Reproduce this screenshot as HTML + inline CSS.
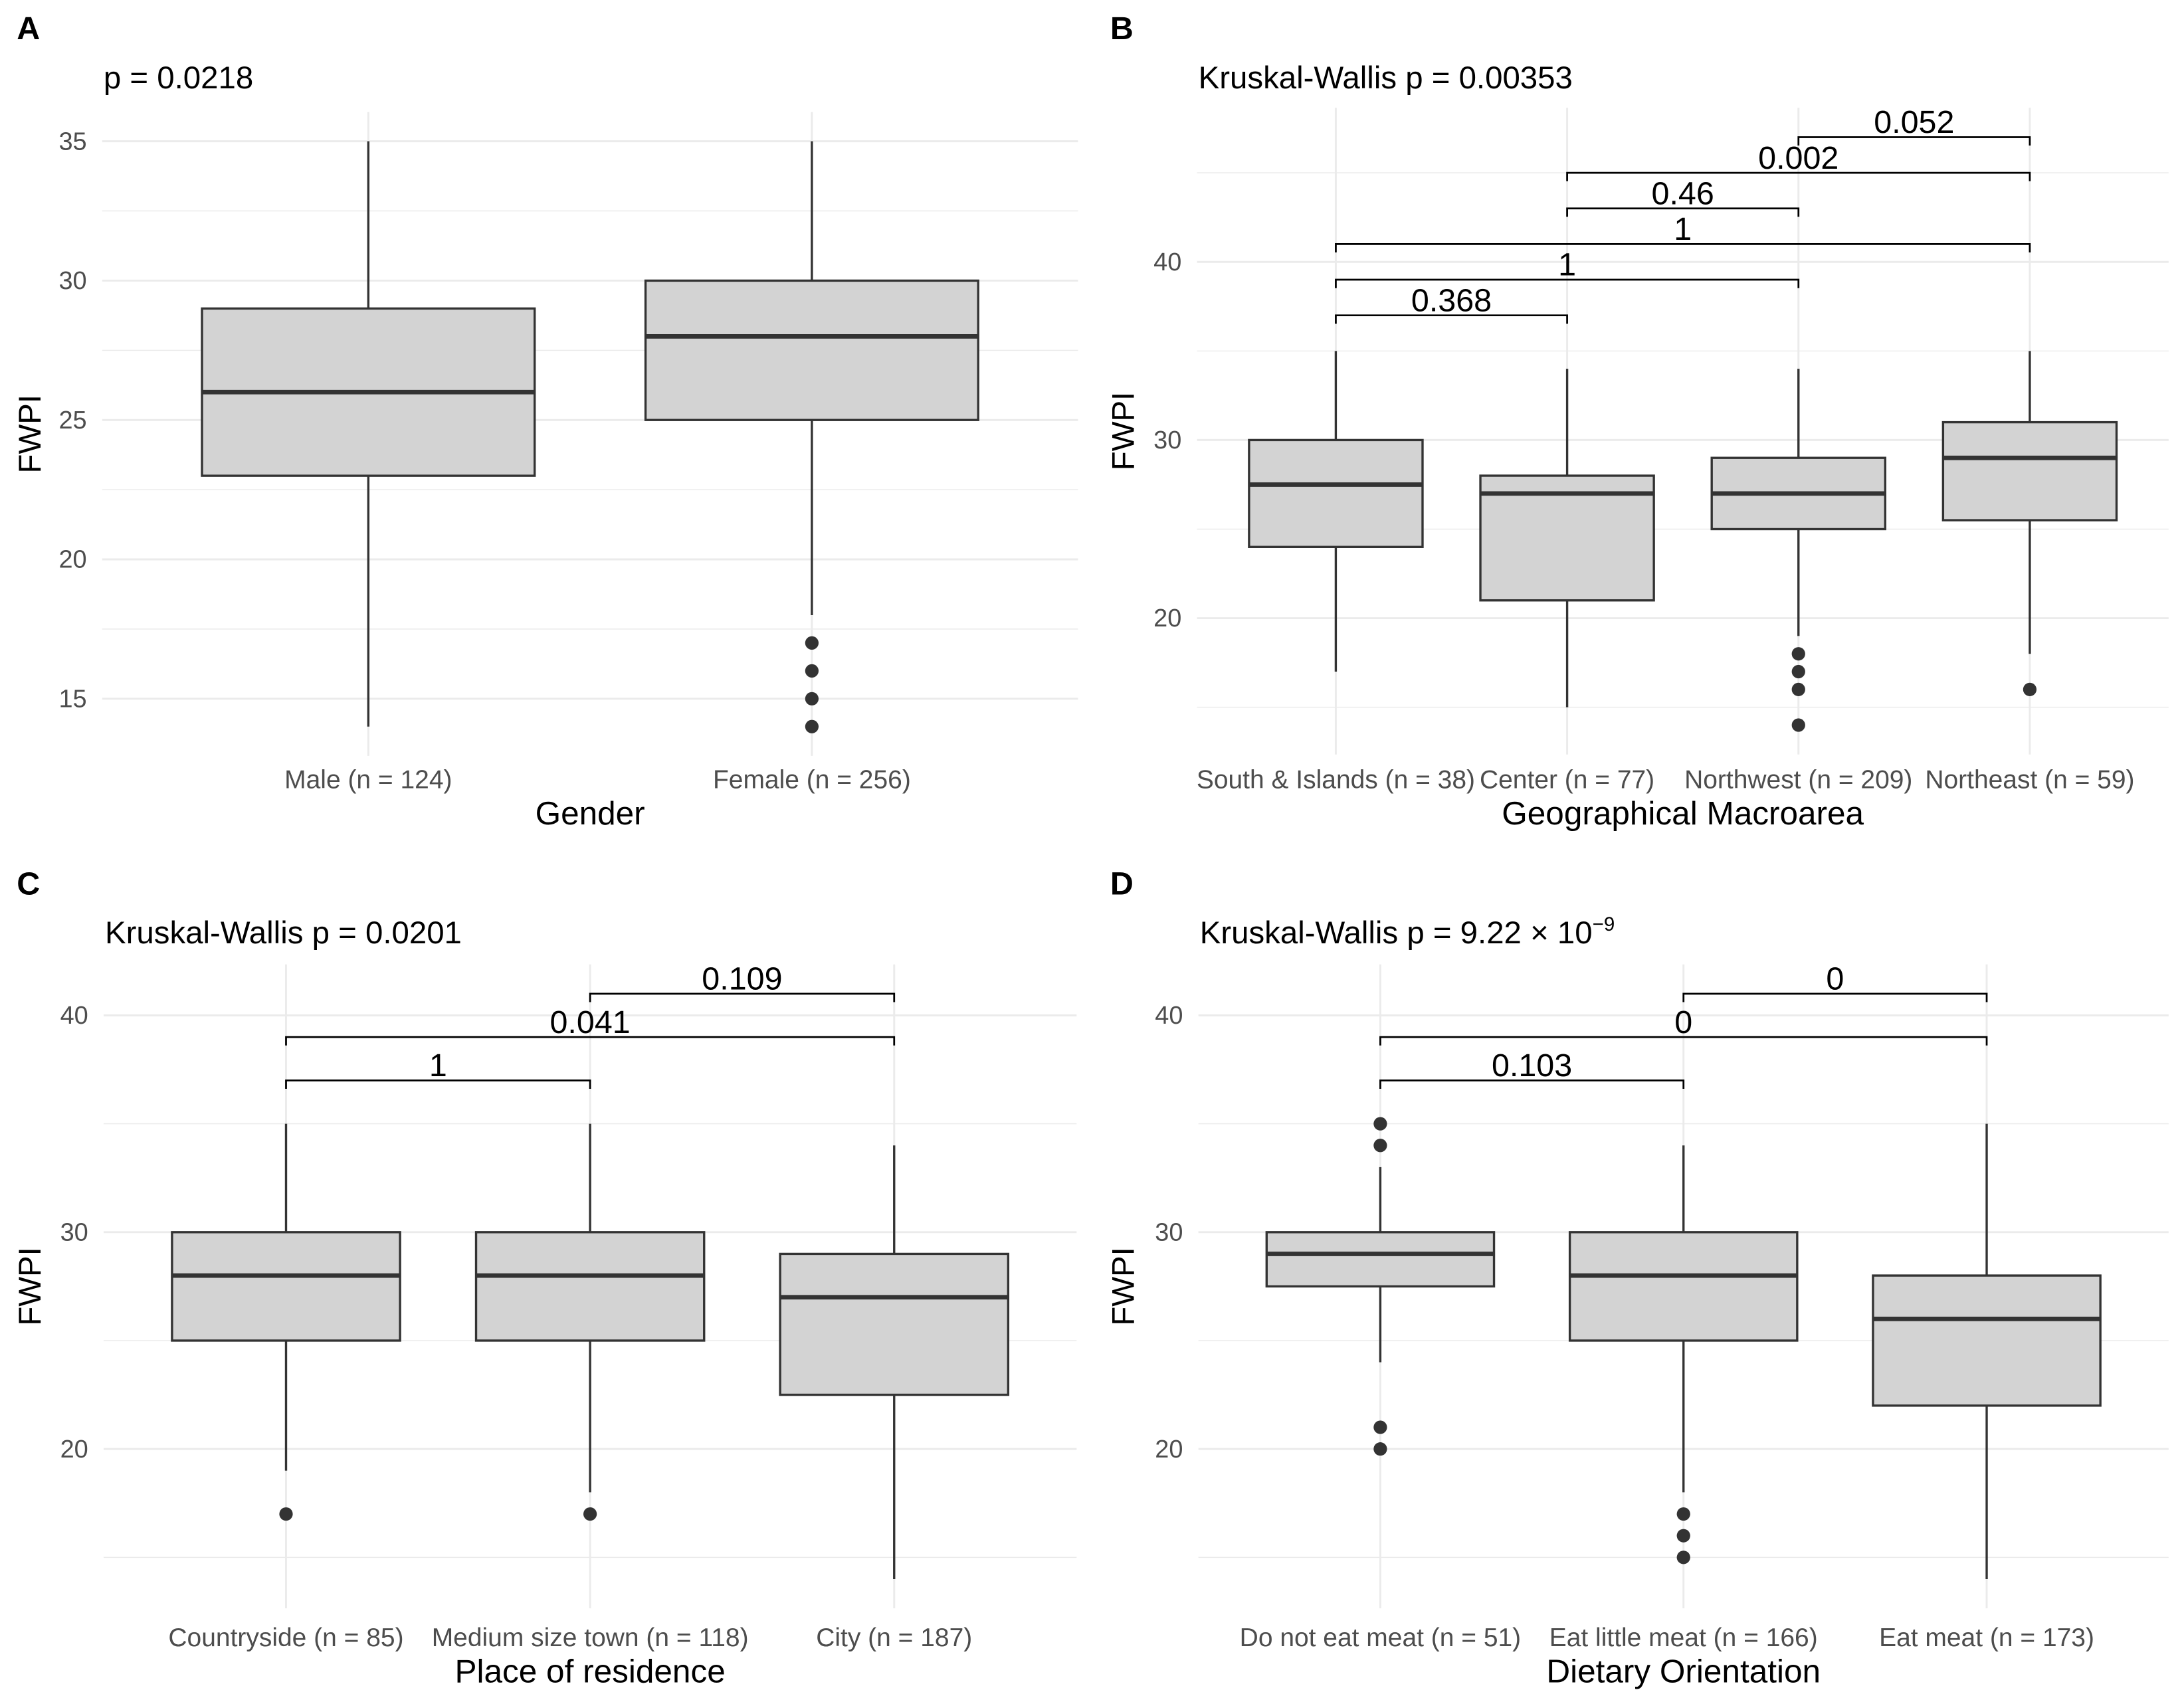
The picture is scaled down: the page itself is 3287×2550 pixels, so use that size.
<!DOCTYPE html>
<html><head><meta charset="utf-8"><style>
html,body{margin:0;padding:0;background:#fff}
svg{display:block}
text{font-family:"Liberation Sans",sans-serif}
</style></head><body>
<svg id="fig" width="3287" height="2550" viewBox="0 0 1560 1210.2" xmlns="http://www.w3.org/2000/svg"></svg>
<script>
// ---- Panel A data ----
const catsA = ["Male (n = 124)", "Female (n = 256)"];
const whiskLoA = [14, 18], q1A = [23, 25], medA = [26, 28], q3A = [29, 30], whiskHiA = [35, 35];
const outA = [[], [14, 15, 16, 17]];
const ticksA = [15, 20, 25, 30, 35];
const bracketsA = [];
// ---- Panel B data ----
const catsB = ["South & Islands (n = 38)", "Center (n = 77)", "Northwest (n = 209)", "Northeast (n = 59)"];
const whiskLoB = [17, 15, 19, 18], q1B = [24, 21, 25, 25.5], medB = [27.5, 27, 27, 29], q3B = [30, 28, 29, 31], whiskHiB = [35, 34, 34, 35];
const outB = [[], [], [14, 16, 17, 18], [16]];
const ticksB = [20, 30, 40];
const brFromB = [0, 0, 0, 1, 1, 2], brToB = [1, 2, 3, 2, 3, 3], brYB = [37, 39, 41, 43, 45, 47];
const brLabB = ["0.368", "1", "1", "0.46", "0.002", "0.052"];
// ---- Panel C data ----
const catsC = ["Countryside (n = 85)", "Medium size town (n = 118)", "City (n = 187)"];
const whiskLoC = [19, 18, 14], q1C = [25, 25, 22.5], medC = [28, 28, 27], q3C = [30, 30, 29], whiskHiC = [35, 35, 34];
const outC = [[17], [17], []];
const ticksC = [20, 30, 40];
const brFromC = [0, 0, 1], brToC = [1, 2, 2], brYC = [37, 39, 41];
const brLabC = ["1", "0.041", "0.109"];
// ---- Panel D data ----
const catsD = ["Do not eat meat (n = 51)", "Eat little meat (n = 166)", "Eat meat (n = 173)"];
const whiskLoD = [24, 18, 14], q1D = [27.5, 25, 22], medD = [29, 28, 26], q3D = [30, 30, 28], whiskHiD = [33, 34, 35];
const outD = [[20, 21, 34, 35], [15, 16, 17], []];
const ticksD = [20, 30, 40];
const brFromD = [0, 0, 1], brToD = [1, 2, 2], brYD = [37, 39, 41];
const brLabD = ["0.103", "0", "0"];

const NS = "http://www.w3.org/2000/svg";
const svg = document.getElementById("fig");
function mk(tag, attrs, parent) {
  const e = document.createElementNS(NS, tag);
  for (const k in attrs) e.setAttribute(k, attrs[k]);
  (parent || svg).appendChild(e);
  return e;
}

function panel(cfg) {
  const g = mk("g", {});
  
  
  const n = cfg.cats.length;
  const allVals = [].concat(cfg.lo, cfg.hi, ...cfg.out, cfg.brY || []);
  const dmin = Math.min(...allVals), dmax = Math.max(...allVals);
  const pad = (dmax - dmin) * 0.05;
  const vmin = dmin - pad, vmax = dmax + pad;
  const y = v => cfg.bottom - (v - vmin) / (vmax - vmin) * (cfg.bottom - cfg.top);
  const x = i => cfg.left + (i + 0.6) / (n + 0.2) * (cfg.right - cfg.left);
  const step = (cfg.right - cfg.left) / (n + 0.2);
  const tstep = cfg.ticks[1] - cfg.ticks[0];
  for (let v = cfg.ticks[0] - tstep / 2; v <= vmax; v += tstep) {
    if (v < vmin) continue;
    const l = mk("line", {x1: cfg.left, x2: cfg.right, y1: y(v), y2: y(v), stroke: "#ebebeb", "stroke-width": 0.7}, g);
    
    
  }
  cfg.ticks.forEach(t => {
    const l = mk("line", {x1: cfg.left, x2: cfg.right, y1: y(t), y2: y(t), stroke: "#ebebeb", "stroke-width": 1.4}, g);
    
    
    const tx = mk("text", {x: cfg.left - 11, y: y(t) + 6, "text-anchor": "end", "font-size": 18, fill: "#4d4d4d"}, g);
    tx.textContent = t;
    
    
  });
  for (let i = 0; i < n; i++) {
    const l = mk("line", {x1: x(i), x2: x(i), y1: cfg.top, y2: cfg.bottom, stroke: "#ebebeb", "stroke-width": 1.4}, g);
    
    
  }
  const hw = step * 0.375;
  for (let i = 0; i < n; i++) {
    const bg = mk("g", {}, g);
    
    
    mk("line", {x1: x(i), x2: x(i), y1: y(cfg.hi[i]), y2: y(cfg.q3[i]), stroke: "#333", "stroke-width": 1.6}, bg);
    mk("line", {x1: x(i), x2: x(i), y1: y(cfg.q1[i]), y2: y(cfg.lo[i]), stroke: "#333", "stroke-width": 1.6}, bg);
    mk("rect", {x: x(i) - hw, y: y(cfg.q3[i]), width: 2 * hw, height: y(cfg.q1[i]) - y(cfg.q3[i]), fill: "#d3d3d3", stroke: "#333", "stroke-width": 1.6}, bg);
    mk("line", {x1: x(i) - hw, x2: x(i) + hw, y1: y(cfg.med[i]), y2: y(cfg.med[i]), stroke: "#333", "stroke-width": 3.2}, bg);
    cfg.out[i].forEach(v => {
      const c = mk("circle", {cx: x(i), cy: y(v), r: 4.8, fill: "#333"}, bg);
      
      
    });
    const tl = mk("text", {x: x(i), y: cfg.tickY, "text-anchor": "middle", "font-size": 18.5, fill: "#4d4d4d"}, g);
    tl.textContent = cfg.cats[i];
    
    
  }
  (cfg.brY || []).forEach((v, k) => {
    const bg = mk("g", {}, g);
    
    
    const x1 = x(cfg.brFrom[k]), x2 = x(cfg.brTo[k]), yy = y(v);
    mk("path", {d: `M${x1},${yy + 6}V${yy}H${x2}V${yy + 6}`, fill: "none", stroke: "#000", "stroke-width": 1.3}, bg);
    const t = mk("text", {x: (x1 + x2) / 2, y: yy - 3, "text-anchor": "middle", "font-size": 23, fill: "#000"}, bg);
    t.textContent = cfg.brLab[k];
  });
  const tag = mk("text", {x: cfg.tagX, y: cfg.tagY, "font-size": 23, "font-weight": "bold"}, g);
  tag.textContent = cfg.tag;
  
  
  const st = mk("text", {x: cfg.left + 1, y: cfg.tagY + 35, "font-size": 22.5}, g);
  st.innerHTML = cfg.sub;
  
  
  const xt = mk("text", {x: (cfg.left + cfg.right) / 2, y: cfg.tickY + 26, "text-anchor": "middle", "font-size": 23.5}, g);
  xt.textContent = cfg.xtitle;
  
  
  const cy = (cfg.top + cfg.bottom) / 2, cx = cfg.tagX + 17;
  const yt = mk("text", {x: cx, y: cy, "text-anchor": "middle", "font-size": 22.5, transform: `rotate(-90 ${cx} ${cy})`}, g);
  yt.textContent = "FWPI";
  
  
}

panel({id: "panel-a-gender", tag: "A", tagX: 12, tagY: 28, sub: "p = 0.0218", xtitle: "Gender",
  cats: catsA, lo: whiskLoA, q1: q1A, med: medA, q3: q3A, hi: whiskHiA, out: outA, ticks: ticksA,
  left: 73, right: 770, top: 80, bottom: 540, tickY: 563});
panel({id: "panel-b-macroarea", tag: "B", tagX: 793, tagY: 28, sub: "Kruskal-Wallis p = 0.00353", xtitle: "Geographical Macroarea",
  cats: catsB, lo: whiskLoB, q1: q1B, med: medB, q3: q3B, hi: whiskHiB, out: outB, ticks: ticksB,
  brFrom: brFromB, brTo: brToB, brY: brYB, brLab: brLabB,
  left: 855, right: 1549, top: 77, bottom: 539, tickY: 563});
panel({id: "panel-c-residence", tag: "C", tagX: 12, tagY: 639, sub: "Kruskal-Wallis p = 0.0201", xtitle: "Place of residence",
  cats: catsC, lo: whiskLoC, q1: q1C, med: medC, q3: q3C, hi: whiskHiC, out: outC, ticks: ticksC,
  brFrom: brFromC, brTo: brToC, brY: brYC, brLab: brLabC,
  left: 74, right: 769, top: 689, bottom: 1149, tickY: 1176});
panel({id: "panel-d-diet", tag: "D", tagX: 793, tagY: 639, sub: "Kruskal-Wallis p = 9.22 × 10<tspan dy='-9' font-size='14'>−9</tspan>", xtitle: "Dietary Orientation",
  cats: catsD, lo: whiskLoD, q1: q1D, med: medD, q3: q3D, hi: whiskHiD, out: outD, ticks: ticksD,
  brFrom: brFromD, brTo: brToD, brY: brYD, brLab: brLabD,
  left: 856, right: 1549, top: 689, bottom: 1149, tickY: 1176});
</script>
</body></html>
